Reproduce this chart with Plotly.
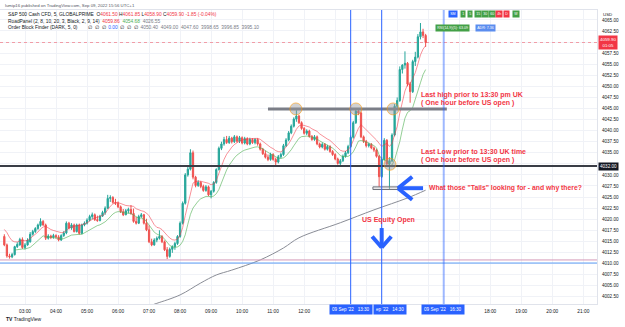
import plotly.graph_objects as go
import pandas as pd

# ---------------- data ----------------
START = "2022-09-09 02:20"
opens = [4016.1, 4014.2, 4011.7, 4011.5, 4012.0, 4013.8, 4014.2, 4015.4, 4013.6, 4014.2,
         4014.9, 4016.6, 4017.2, 4017.9, 4018.6, 4019.5, 4018.7, 4015.7, 4016.2, 4015.9,
         4016.3, 4016.0, 4015.3, 4016.3, 4016.9, 4019.1, 4018.0, 4018.7, 4017.2, 4018.7,
         4016.8, 4018.7, 4019.1, 4019.8, 4020.6, 4021.0, 4019.9, 4019.7, 4020.7, 4021.5,
         4022.5, 4024.7, 4024.9, 4023.8, 4023.6, 4022.8, 4021.7, 4021.0, 4021.9, 4022.2,
         4021.3, 4019.5, 4019.1, 4020.6, 4021.0, 4019.1, 4017.6, 4014.9, 4014.2, 4015.3,
         4015.7, 4016.1, 4014.9, 4013.1, 4011.6, 4013.2, 4013.8, 4014.5, 4016.1, 4019.1,
         4023.6, 4030.0, 4031.3, 4035.0, 4029.5, 4027.6, 4028.3, 4027.4, 4026.5, 4027.3,
         4025.5, 4026.3, 4028.3, 4031.2, 4036.0, 4037.0, 4038.0, 4037.3, 4038.3, 4037.5,
         4038.6, 4037.6, 4038.4, 4037.2, 4038.2, 4037.0, 4038.0, 4037.3, 4038.0, 4037.0,
         4035.8, 4034.8, 4034.0, 4033.5, 4034.6, 4033.5, 4032.9, 4034.1, 4034.6, 4036.6,
         4037.9, 4039.5, 4041.0, 4042.6, 4043.3, 4041.8, 4040.5, 4039.4, 4039.9, 4038.7,
         4038.0, 4038.6, 4037.0, 4036.3, 4036.9, 4035.8, 4036.4, 4035.3, 4034.6, 4033.6,
         4032.6, 4033.2, 4034.2, 4035.0, 4036.4, 4038.5, 4041.8, 4044.4, 4044.0, 4038.6,
         4037.6, 4036.6, 4036.9, 4036.1, 4035.6, 4034.2, 4029.6, 4033.5, 4037.8, 4032.5,
         4033.2, 4039.0, 4045.5, 4046.8, 4053.8, 4054.8, 4055.2, 4050.5, 4048.8, 4055.6,
         4056.6, 4061.2, 4062.3, 4061.5]
highs = [4016.6, 4014.5, 4012.2, 4012.4, 4014.0, 4014.8, 4015.8, 4015.9, 4014.6, 4015.7,
         4017.1, 4017.6, 4018.2, 4019.0, 4020.2, 4019.8, 4019.0, 4016.6, 4016.5, 4016.7,
         4016.6, 4016.4, 4016.6, 4017.3, 4019.5, 4019.4, 4019.1, 4019.0, 4019.0, 4019.0,
         4019.0, 4019.5, 4020.2, 4021.0, 4021.5, 4021.3, 4020.8, 4021.0, 4021.9, 4022.9,
         4025.5, 4025.4, 4025.2, 4024.6, 4024.0, 4023.1, 4022.3, 4022.3, 4022.6, 4023.2,
         4022.4, 4020.5, 4021.0, 4021.4, 4021.2, 4020.1, 4018.6, 4015.6, 4015.7, 4016.1,
         4017.5, 4016.4, 4015.2, 4013.7, 4013.6, 4014.1, 4014.9, 4016.4, 4019.5, 4024.0,
         4030.4, 4031.8, 4035.8, 4035.5, 4029.8, 4028.8, 4028.6, 4027.8, 4027.7, 4027.6,
         4026.6, 4028.6, 4031.5, 4036.4, 4037.5, 4038.6, 4038.8, 4038.8, 4038.6, 4039.0,
         4038.9, 4038.8, 4038.7, 4038.6, 4038.5, 4038.4, 4038.3, 4038.3, 4038.3, 4037.3,
         4036.1, 4035.5, 4034.6, 4035.0, 4034.9, 4033.9, 4034.5, 4035.0, 4037.0, 4038.3,
         4039.9, 4041.4, 4043.0, 4044.6, 4043.6, 4042.1, 4040.8, 4040.3, 4040.2, 4039.0,
         4039.0, 4038.9, 4037.3, 4037.3, 4037.2, 4036.8, 4036.7, 4035.6, 4034.9, 4033.9,
         4033.6, 4034.6, 4035.4, 4036.8, 4038.9, 4042.2, 4044.9, 4044.8, 4044.3, 4038.9,
         4037.9, 4037.3, 4037.2, 4036.4, 4035.9, 4034.5, 4034.0, 4038.3, 4038.1, 4034.0,
         4039.4, 4046.0, 4047.5, 4054.5, 4055.0, 4057.9, 4055.5, 4051.0, 4056.0, 4057.8,
         4061.8, 4064.3, 4063.0, 4061.85]
lows = [4013.9, 4011.3, 4011.1, 4011.2, 4011.8, 4013.5, 4014.0, 4013.3, 4013.2, 4014.0,
        4014.7, 4016.3, 4016.9, 4017.6, 4018.3, 4018.5, 4015.3, 4015.4, 4015.5, 4015.6,
        4015.6, 4015.0, 4015.1, 4016.0, 4016.6, 4017.7, 4017.6, 4017.0, 4017.0, 4016.5,
        4016.6, 4018.4, 4018.8, 4019.5, 4020.0, 4019.6, 4019.4, 4019.5, 4020.5, 4021.0,
        4022.3, 4023.9, 4023.5, 4023.2, 4022.5, 4021.4, 4020.7, 4020.9, 4021.3, 4021.0,
        4019.2, 4018.8, 4018.9, 4020.3, 4018.8, 4017.3, 4014.6, 4013.9, 4014.0, 4014.8,
        4015.4, 4014.6, 4012.8, 4011.0, 4011.3, 4012.4, 4013.1, 4014.2, 4015.8, 4018.8,
        4023.3, 4029.6, 4031.0, 4029.0, 4027.2, 4027.3, 4027.0, 4026.2, 4026.2, 4025.2,
        4024.7, 4026.0, 4028.0, 4031.0, 4035.6, 4036.6, 4037.0, 4037.0, 4037.1, 4037.2,
        4037.3, 4037.2, 4036.9, 4036.9, 4036.7, 4036.7, 4037.0, 4036.9, 4036.6, 4035.5,
        4034.5, 4033.7, 4033.1, 4033.2, 4033.2, 4032.1, 4032.6, 4033.7, 4034.3, 4036.3,
        4037.6, 4039.2, 4040.7, 4042.0, 4041.5, 4040.2, 4039.1, 4039.0, 4038.4, 4037.7,
        4037.7, 4036.7, 4036.0, 4036.0, 4035.5, 4035.5, 4035.0, 4034.3, 4033.3, 4032.3,
        4031.8, 4032.9, 4033.9, 4034.7, 4036.1, 4038.2, 4041.5, 4043.5, 4038.3, 4037.2,
        4036.2, 4036.2, 4035.8, 4035.2, 4033.9, 4027.3, 4029.3, 4033.2, 4032.2, 4026.8,
        4032.9, 4038.7, 4045.0, 4046.5, 4052.9, 4054.0, 4050.0, 4046.3, 4048.5, 4054.6,
        4056.3, 4060.6, 4060.9, 4058.9]
closes = [4014.2, 4011.7, 4011.5, 4012.0, 4013.8, 4014.3, 4015.4, 4013.6, 4014.2, 4015.3,
          4016.6, 4017.2, 4017.9, 4018.7, 4019.5, 4018.7, 4015.7, 4016.2, 4015.9, 4016.3,
          4016.0, 4015.3, 4016.3, 4016.9, 4019.1, 4018.0, 4018.7, 4017.2, 4018.7, 4016.8,
          4018.7, 4019.1, 4019.8, 4020.6, 4021.0, 4019.9, 4019.7, 4020.7, 4021.5, 4022.5,
          4024.7, 4024.9, 4023.8, 4023.6, 4022.8, 4021.7, 4021.0, 4021.9, 4022.2, 4021.3,
          4019.5, 4019.1, 4020.6, 4021.0, 4019.1, 4017.6, 4014.9, 4014.2, 4015.3, 4015.7,
          4016.1, 4014.9, 4013.1, 4011.6, 4013.2, 4013.8, 4014.5, 4016.1, 4019.1, 4023.6,
          4030.0, 4031.3, 4035.0, 4029.5, 4027.6, 4028.3, 4027.4, 4026.5, 4027.3, 4025.5,
          4026.3, 4028.3, 4031.2, 4036.0, 4037.0, 4038.0, 4037.3, 4038.3, 4037.5, 4038.6,
          4037.6, 4038.4, 4037.2, 4038.2, 4037.0, 4038.0, 4037.3, 4038.0, 4037.0, 4035.8,
          4034.8, 4034.0, 4033.5, 4034.6, 4033.5, 4032.9, 4034.1, 4034.6, 4036.6, 4037.9,
          4039.5, 4041.0, 4042.6, 4043.3, 4041.8, 4040.5, 4039.4, 4039.9, 4038.7, 4038.0,
          4038.6, 4037.0, 4036.3, 4036.9, 4035.8, 4036.4, 4035.3, 4034.6, 4033.6, 4032.6,
          4033.2, 4034.2, 4035.0, 4036.4, 4038.5, 4041.8, 4044.4, 4044.0, 4038.6, 4037.6,
          4036.6, 4036.9, 4036.1, 4035.6, 4034.2, 4029.6, 4033.5, 4037.8, 4032.5, 4033.2,
          4039.0, 4045.5, 4046.8, 4053.8, 4054.8, 4055.2, 4050.5, 4048.8, 4055.6, 4056.6,
          4061.2, 4062.3, 4061.5, 4059.9]

gray_times = ["07:00", "07:15", "08:00", "08:40", "09:10", "09:40", "10:35",
              "11:20", "11:50", "13:10", "14:15", "15:20", "15:55"]
gray_values = [4000.4, 4001.0, 4002.9, 4005.6, 4007.4, 4008.5, 4010.8,
               4013.5, 4015.8, 4019.2, 4022.1, 4024.8, 4026.55]

hour_labels = ["03:00", "04:00", "05:00", "06:00", "07:00", "08:00", "09:00", "10:00",
               "11:00", "12:00", "18:00", "19:00", "20:00", "21:00"]
price_labels = [4002.5, 4005.0, 4007.5, 4010.0, 4012.5, 4015.0, 4017.5, 4020.0, 4022.5,
                4025.0, 4027.5, 4030.0, 4035.0, 4037.5, 4040.0, 4042.5, 4045.0, 4047.5,
                4050.0, 4052.5, 4055.0, 4057.5, 4062.5, 4065.0]

high_level = 4044.9
low_level = 4032.0
tails_level = 4027.0
pink_level = 4010.8
blue_level = 4010.1
last_price = 4059.90

DAY = "2022-09-09 "
times = pd.date_range(START, periods=len(closes), freq="5min")


def ema(values, span, seed):
    a = 2.0 / (span + 1)
    out, prev = [], seed
    for v in values:
        prev = prev + a * (v - prev)
        out.append(prev)
    return out


red_ma = ema(highs, 8, 4018.0)
green_ma = ema(lows[4:], 10, 4013.3)

RED = "#f23645"
BLUE = "#2962ff"
GRID = "#f0f2f7"
FONT = "Liberation Sans"

fig = go.Figure()
fig.add_trace(go.Candlestick(
    x=times, open=opens, high=highs, low=lows, close=closes,
    increasing=dict(line=dict(color="#26a69a", width=1), fillcolor="#26a69a"),
    decreasing=dict(line=dict(color="#ef5350", width=1), fillcolor="#ef5350"),
    whiskerwidth=0, showlegend=False, hoverinfo="skip"))
fig.add_trace(go.Scatter(x=times, y=red_ma, mode="lines",
                         line=dict(color="rgba(242,54,69,0.55)", width=1),
                         showlegend=False, hoverinfo="skip"))
fig.add_trace(go.Scatter(x=times[4:], y=green_ma, mode="lines",
                         line=dict(color="rgba(76,175,80,0.6)", width=1),
                         showlegend=False, hoverinfo="skip"))
fig.add_trace(go.Scatter(x=[DAY + t for t in gray_times], y=gray_values, mode="lines",
                         line=dict(color="#8a8d96", width=1, shape="spline"),
                         showlegend=False, hoverinfo="skip"))

shapes = []
shapes.append(dict(type="line", xref="paper", x0=0, x1=1, y0=low_level, y1=low_level,
                   line=dict(color="#3a3d46", width=2), layer="above"))
shapes.append(dict(type="line", x0=DAY + "10:50", x1=DAY + "16:36", y0=high_level, y1=high_level,
                   line=dict(color="#7b7e87", width=3), layer="above"))
shapes.append(dict(type="rect", x0=DAY + "14:13", x1=DAY + "15:01", y0=tails_level - 0.3,
                   y1=tails_level + 0.3, line=dict(color="#6f727b", width=1),
                   fillcolor="rgba(200,200,205,0.4)", layer="above"))
shapes.append(dict(type="line", xref="paper", x0=0, x1=1, y0=pink_level, y1=pink_level,
                   line=dict(color="#d49ab8", width=1)))
shapes.append(dict(type="line", xref="paper", x0=0, x1=1, y0=blue_level, y1=blue_level,
                   line=dict(color="#5b9cf6", width=1)))
shapes.append(dict(type="line", xref="paper", x0=0, x1=1, y0=last_price, y1=last_price,
                   line=dict(color="rgba(242,54,69,0.45)", width=1, dash="dot")))
for t, col, w in [("13:30", BLUE, 1), ("14:30", BLUE, 1), ("16:30", "rgba(41,98,255,0.45)", 2)]:
    shapes.append(dict(type="line", yref="paper", y0=0, y1=1, x0=DAY + t, x1=DAY + t,
                       line=dict(color=col, width=w), layer="above"))
for t, lv in [("11:44", high_level), ("13:40", high_level), ("14:52", high_level), ("14:46", 4032.4)]:
    shapes.append(dict(type="circle", xsizemode="pixel", ysizemode="pixel",
                       xanchor=DAY + t, yanchor=lv, x0=-6, x1=6, y0=-6, y1=6,
                       fillcolor="rgba(150,150,155,0.45)",
                       line=dict(color="rgba(255,152,0,0.55)", width=1), layer="above"))
arrow_lines = [
    ("15:01:30", tails_level, "15:50:00", tails_level),
    ("15:01:30", tails_level, "15:29:00", 4029.6),
    ("15:01:30", tails_level, "15:29:00", 4024.4),
    ("14:30:00", 4018.0, "14:30:00", 4013.6),
    ("14:30:00", 4013.6, "14:11:30", 4016.1),
    ("14:30:00", 4013.6, "14:48:30", 4016.1),
]
for a0, b0, a1, b1 in arrow_lines:
    shapes.append(dict(type="line", x0=DAY + a0, y0=b0, x1=DAY + a1, y1=b1,
                       line=dict(color=BLUE, width=4), layer="above"))

ann = []


def red_text(t, x, y, size=7.0):
    ann.append(dict(text="<b>%s</b>" % t, x=DAY + x, y=y, xanchor="left", yanchor="middle",
                    showarrow=False, font=dict(family=FONT, size=size, color=RED)))


red_text("Last high prior to 13:30 pm UK", "15:42", 4048.0)
red_text("( One hour before US open )", "15:42", 4046.2)
red_text("Last Low prior to 13:30 UK time", "15:42", 4035.1)
red_text("( One hour before US open )", "15:42", 4033.3)
red_text("What those \"Tails\" looking for - and why there?", "15:58", tails_level, 6.8)
red_text("US Equity Open", "13:48", 4019.8)

PW, PH = 597.0, 294.0


def px(x):
    return x / PW


def py(y):
    return (304.0 - y) / PH


def hdr(text, x, y, size=4.85, color="#131722"):
    ann.append(dict(text=text, xref="paper", yref="paper", x=px(x), y=py(y), xanchor="left",
                    yanchor="middle", showarrow=False, font=dict(family=FONT, size=size, color=color)))


def span(c, t):
    return '<span style="color:%s">%s</span>' % (c, t)


hdr("lumip16 published on TradingView.com, Sep 09, 2022 15:56 UTC+1", 3, 5, 4.3, "#50535e")
hdr("S&amp;P 500 Cash CFD, 5, GLOBALPRIME  O" + span(RED, "4061.50") + " H" + span(RED, "4061.85")
    + " L" + span(RED, "4058.90") + " C" + span(RED, "4059.90") + " " + span(RED, "-1.85 (-0.04%)"), 6, 14.5)
hdr("RoadPanel (2, 8, 10, 20, 3, Black, 2, 9, 14)  " + span(RED, "4059.86") + "  "
    + span("#4caf50", "4054.68") + "  " + span("#787b86", "4026.55"), 6, 21)
hdr("Order Block Finder (DARK, 5, 0)        ∅  ∅  ∅  " + span(BLUE, "0.00") + "  ∅  ∅  ∅  "
    + span("#787b86", "4050.40  4049.00  4047.60  3998.65  3996.85  3995.10"), 6, 27.5)
hdr("USD", 601, 14, 4.4)
hdr("<b>TV</b> TradingView", 4, 319, 5.0)

ann.append(dict(text="4059.90<br>01:05", xref="paper", yref="y", x=px(598), y=last_price,
                xanchor="left", yanchor="middle", showarrow=False, bgcolor=RED, borderpad=1,
                font=dict(family=FONT, size=4.4, color="white")))
ann.append(dict(text="4032.00", xref="paper", yref="y", x=px(598), y=low_level,
                xanchor="left", yanchor="middle", showarrow=False, bgcolor="#131722", borderpad=1,
                font=dict(family=FONT, size=4.6, color="white")))

# bottom time labels: 14:30 box partly hidden behind the 13:30 box
ann.append(dict(text="ep '22   14:30", xref="paper", yref="paper", x=px(373), y=py(309),
                xanchor="left", yanchor="middle", showarrow=False, bgcolor=BLUE,
                borderpad=2, font=dict(family=FONT, size=4.6, color="white")))
for cx, t in [(350.7, "13:30"), (443.3, "16:30")]:
    ann.append(dict(text="09 Sep '22   " + t, xref="paper", yref="paper", x=px(cx), y=py(309),
                    xanchor="center", yanchor="middle", showarrow=False, bgcolor=BLUE,
                    borderpad=2, font=dict(family=FONT, size=4.6, color="white")))

GREEN = "#43a047"
badges = [("SM", 452.5, BLUE), ("1", 463, GREEN), ("5", 470.5, GREEN), ("15", 477.5, GREEN),
          ("30", 485, GREEN), ("60", 491.5, GREEN), ("4h", 499, RED), ("D", 506.5, RED),
          ("W", 515.5, GREEN)]
for t, cx, c in badges:
    ann.append(dict(text=t, xref="paper", yref="paper", x=px(cx), y=py(14), xanchor="center",
                    yanchor="middle", showarrow=False, bgcolor=c, borderpad=1.2,
                    font=dict(family=FONT, size=3.6, color="white")))
ann.append(dict(text="RSI(14,9)(5): 63.09", xref="paper", yref="paper", x=px(452.5), y=py(28),
                xanchor="center", yanchor="middle", showarrow=False, bgcolor=GREEN, borderpad=1.2,
                font=dict(family=FONT, size=3.6, color="white")))
ann.append(dict(text="ADR: 7.36", xref="paper", yref="paper", x=px(485), y=py(28),
                xanchor="center", yanchor="middle", showarrow=False, bgcolor="#5b8def", borderpad=1.2,
                font=dict(family=FONT, size=3.6, color="white")))

fig.update_layout(
    width=625, height=327, margin=dict(l=0, r=28, t=10, b=23),
    paper_bgcolor="white", plot_bgcolor="white",
    shapes=shapes, annotations=ann, showlegend=False,
    font=dict(family=FONT, color="#131722"),
    xaxis=dict(type="date", range=[DAY + "02:11:38", DAY + "21:26:30"],
               rangeslider=dict(visible=False), tickformat="%H:%M",
               tickmode="array", tickvals=[DAY + h for h in hour_labels],
               showgrid=True, gridcolor=GRID, gridwidth=1,
               minor=dict(dtick=3600000, tick0=DAY + "00:00", showgrid=True, gridcolor=GRID),
               showline=True, linecolor="#e0e3eb", mirror=True, ticks="outside",
               ticklen=2, tickcolor="rgba(0,0,0,0)",
               tickfont=dict(family=FONT, size=4.8, color="#131722"), zeroline=False),
    yaxis=dict(side="right", range=[4000.85, 4067.24],
               tickmode="array", tickvals=price_labels, tickformat=".2f",
               showgrid=True, gridcolor=GRID, gridwidth=1,
               minor=dict(dtick=2.5, tick0=4000, showgrid=True, gridcolor=GRID),
               showline=True, linecolor="#e0e3eb", mirror=True, ticks="outside",
               ticklen=3, tickcolor="rgba(0,0,0,0)",
               tickfont=dict(family=FONT, size=4.6, color="#131722"), zeroline=False),
)
fig.write_html("out.html")
